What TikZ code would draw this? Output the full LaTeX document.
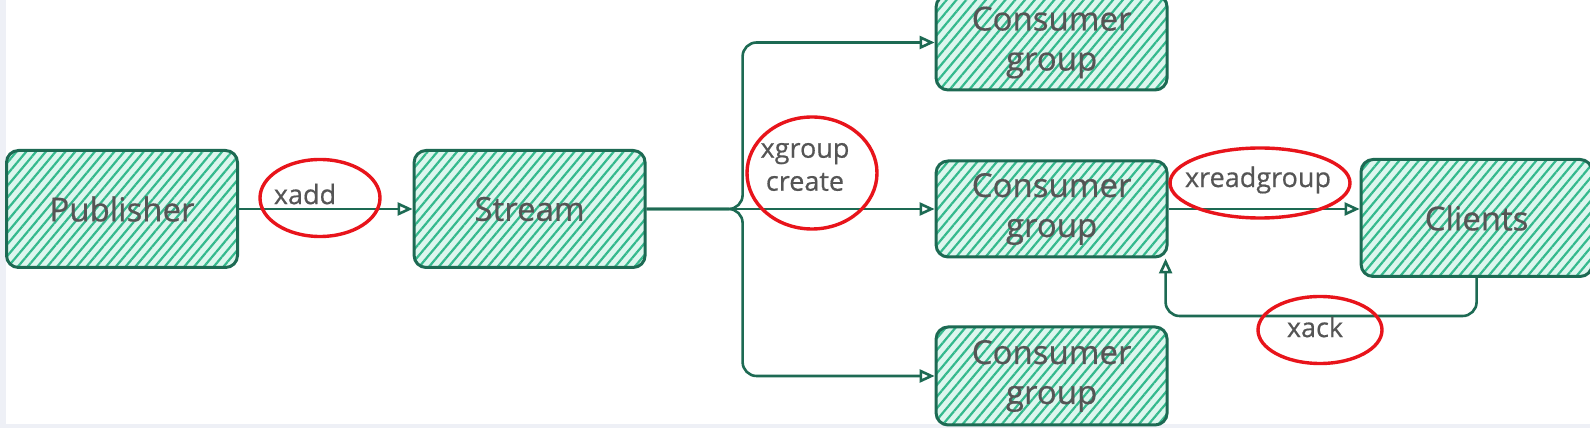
\documentclass[tikz,border=0pt]{standalone}
\usepackage{fontspec}
\setmainfont{Open Sans}[FakeBold=0.5]
\usetikzlibrary{positioning,shapes.geometric,arrows.meta,patterns.meta}

\definecolor{boxline}{HTML}{1D6A53}
\definecolor{boxfill}{HTML}{DDF6EE}
\definecolor{hatch}{HTML}{34B98D}
\definecolor{ink}{HTML}{555555}
\definecolor{ringred}{HTML}{E8141B}
\definecolor{strip}{HTML}{EEF0F6}

\begin{document}
\begin{tikzpicture}[x=1pt,y=1pt]
		\tikzstyle{every path}=[line width=2.6pt]
		
		\tikzstyle{box}=[draw=boxline,line width=3pt,rounded corners=12pt,
		preaction={fill=boxfill},pattern={Lines[angle=50,distance=7.5pt,line width=2.2pt]},
		pattern color=hatch,minimum width=231pt,minimum height=117pt,inner sep=0pt,
		align=center,text=ink,font=\fontsize{33}{40}\selectfont]
		\tikzstyle{groupbox}=[box,minimum height=96pt]
		\tikzstyle{flow}=[draw=boxline,-{Triangle[open,length=15pt,width=13pt]}]
		\tikzstyle{ring}=[draw=ringred,ellipse,line width=3.4pt,inner sep=0pt]
		\tikzstyle{cmd}=[text=ink,align=center,font=\fontsize{27}{33}\selectfont]
		
		%% Page
		\useasboundingbox (0,0) rectangle (1590,428);
		\fill[white] (0,0) rectangle (1590,428);
		\fill[strip] (0,0) rectangle (1590,4);
		\fill[strip] (0,0) rectangle (6,428);
		
		%% Boxes
		\node[box] (pub) at (122,219) {Publisher};
		\node[box,right=174pt of pub] (stream) {Stream};
		\node[groupbox,right=288pt of stream] (cg2) {Consumer\\group};
		\node[groupbox,above=68pt of cg2,minimum height=95pt] (cg1) {Consumer\\group};
		\node[groupbox,below=67pt of cg2,minimum height=98pt] (cg3) {Consumer\\group};
		\node[box,right=191pt of cg2,yshift=-9pt] (clients) {Clients};
		
		%% Arrows
		\coordinate (split) at ([xshift=96pt]stream.east);
		\draw[flow] (pub) -- (stream);
		\draw[flow,rounded corners=14pt] (stream.east) -- (split) |- (cg1.west);
		\draw[flow] (stream.east) -- (stream.east -| cg2.west);
		\draw[flow,rounded corners=14pt] (stream.east) -- (split) |- (cg3.west);
		\draw[flow] (cg2.east) -- (cg2.east -| clients.west);
		\draw[flow,rounded corners=14pt] (clients.south) -- ++(0,-38) -| ([xshift=-3pt]cg2.south east);
		
		%% Commands
		\node[ring,minimum width=120pt,minimum height=77pt] (addring) at (320,230) {};
		\node[cmd] (addtxt) at (305,234) {xadd};
		\node[ring,minimum width=130pt,minimum height=112pt] (grpring) at (812,255) {};
		\node[cmd] (grptxt) at (805,261) {xgroup\\create};
		\node[ring,minimum width=180pt,minimum height=70pt] (readring) at (1260,245) {};
		\node[cmd] (readtxt) at (1258,248) {xreadgroup};
		\node[ring,minimum width=124pt,minimum height=67pt] (ackring) at (1320,98) {};
		\node[cmd] (acktxt) at (1315,101) {xack};
		
\end{tikzpicture}
\end{document}
